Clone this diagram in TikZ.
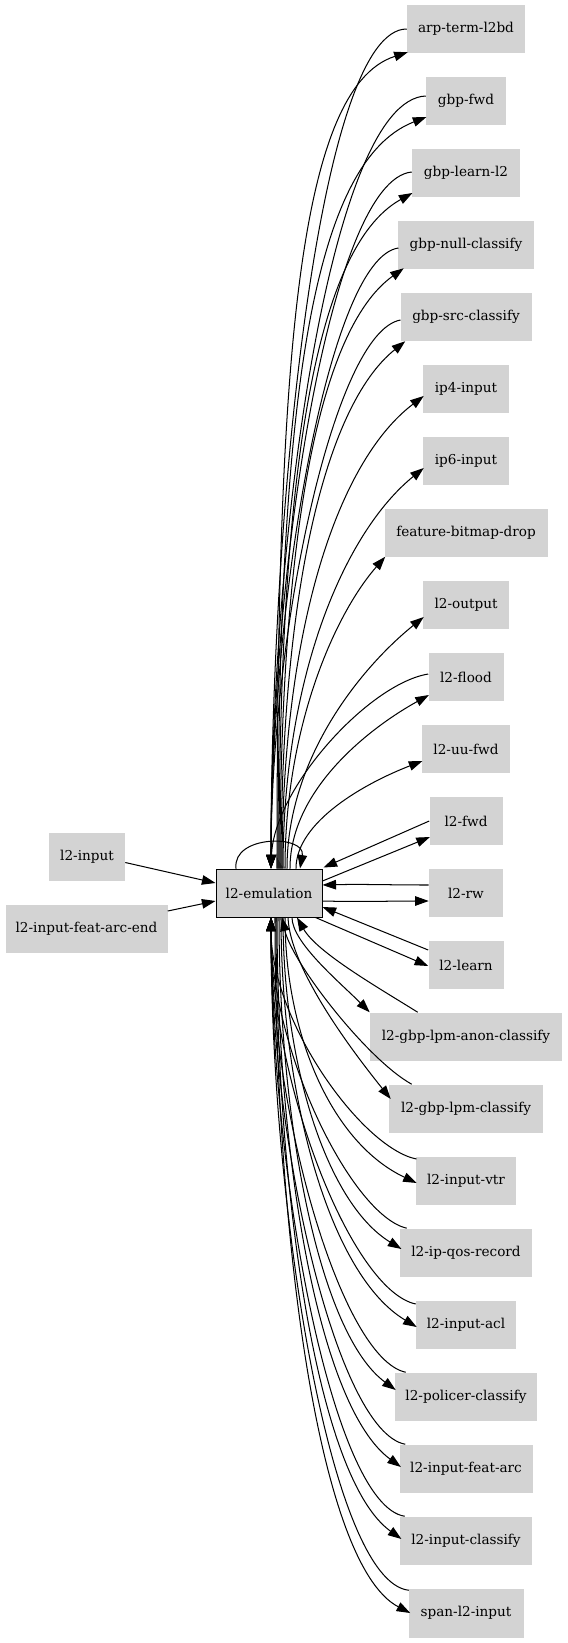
\documentclass[tikz,border=0pt]{standalone}
\usepackage{fontspec}
\setmainfont{DejaVu Serif}
\usetikzlibrary{arrows.meta,calc}
\definecolor{ngray}{RGB}{211,211,211}
\begin{document}
\begin{tikzpicture}[x=0.7353pt,y=-0.7353pt,
  nd/.style={fill=ngray,draw=none,minimum height=36pt,inner sep=0pt,font=\fontsize{10}{12}\selectfont},
  bw/.style={minimum width=#1*0.7353pt},
  ed/.style={draw=black,line width=0.75pt,-{Triangle[length=10pt,width=7pt]}},
]
\useasboundingbox (0,0) rectangle (567,1643);
% nodes
\node[nd,draw=black,line width=0.7pt,bw=106,minimum height=35.3pt] (em) at (269,893) {l2-emulation};
\node[nd,bw=76] (lin) at (87,857) {l2-input};
\node[nd,bw=162] (lend) at (86.5,929) {l2-input-feat-arc-end};
\node[nd,bw=118] (arp) at (466,29) {arp-term-l2bd};
\node[nd,bw=80] (gfwd) at (466,101) {gbp-fwd};
\node[nd,bw=108] (glearn) at (466,173) {gbp-learn-l2};
\node[nd,bw=136] (gnull) at (466,245) {gbp-null-classify};
\node[nd,bw=131] (gsrc) at (466,317) {gbp-src-classify};
\node[nd,bw=86] (ipf) at (466,389) {ip4-input};
\node[nd,bw=86] (ips) at (466,461) {ip6-input};
\node[nd,bw=163] (fbd) at (466,533) {feature-bitmap-drop};
\node[nd,bw=86] (lout) at (466,605) {l2-output};
\node[nd,bw=75] (lflood) at (466,677) {l2-flood};
\node[nd,bw=88] (luu) at (466,749) {l2-uu-fwd};
\node[nd,bw=73] (lfwd) at (466,821) {l2-fwd};
\node[nd,bw=74] (lrw) at (466,893) {l2-rw};
\node[nd,bw=75] (llearn) at (466,965) {l2-learn};
\node[nd,bw=192] (anon) at (466,1037) {l2-gbp-lpm-anon-classify};
\node[nd,bw=154] (lpm) at (466,1109) {l2-gbp-lpm-classify};
\node[nd,bw=100] (vtr) at (466,1181) {l2-input-vtr};
\node[nd,bw=132] (qos) at (466,1253) {l2-ip-qos-record};
\node[nd,bw=100] (acl) at (466,1325) {l2-input-acl};
\node[nd,bw=142] (pol) at (466,1397) {l2-policer-classify};
\node[nd,bw=133] (farc) at (466,1469) {l2-input-feat-arc};
\node[nd,bw=132] (icls) at (466,1541) {l2-input-classify};
\node[nd,bw=115] (span) at (466,1613) {span-l2-input};
% left inputs
\draw[ed] ($(lin.east)+(0,5.5)$) -- ($(em.west)+(0,-10)$);
\draw[ed] ($(lend.east)+(0,-18)$) -- ($(em.west)+(0,8)$);
% self loop
\draw[ed] ($(em.north)+(-33,0)$) .. controls +(-4,-34) and +(6,-34) .. ($(em.north)+(31,0)$);
% upper outgoing
\draw[ed] ($(em.north)+(8,0)$) .. controls +(0,-490) and +(-113,36) .. ($(arp.south west)+(1,-1.5)$);
\draw[ed] ($(em.north)+(9,0)$) .. controls +(0,-437) and +(-121,47) .. ($(gfwd.west)+(0.7,16)$);
\draw[ed] ($(em.north)+(10,0)$) .. controls +(0,-378) and +(-101,56) .. ($(glearn.west)+(0.7,20)$);
\draw[ed] ($(em.north)+(11,0)$) .. controls +(0,-324) and +(-87,62) .. ($(gnull.south west)+(6,-1.5)$);
\draw[ed] ($(em.north)+(12,0)$) .. controls +(0,-273) and +(-81,65) .. ($(gsrc.south west)+(5,-0.5)$);
\draw[ed] ($(em.north)+(13,0)$) .. controls +(0,-238) and +(-87,66) .. ($(ipf.west)+(1,7)$);
\draw[ed] ($(em.north)+(14,0)$) .. controls +(0,-193) and +(-79,64) .. ($(ips.west)+(1,7)$);
\draw[ed] ($(em.north)+(16,0)$) .. controls +(0,-143) and +(-50,57) .. ($(fbd.south west)+(1,-1)$);
\draw[ed] ($(em.north)+(18,0)$) .. controls +(0,-111) and +(-62,50) .. ($(lout.west)+(1,12)$);
\draw[ed] ($(em.north)+(21,0)$) .. controls +(0,-77) and +(-63,35) .. ($(lflood.west)+(0.7,18)$);
\draw[ed] ($(em.north)+(27,0)$) .. controls +(0,-47) and +(-57,22) .. ($(luu.west)+(0.7,12)$);
\draw[ed] ($(em.east)+(0,-12)$) -- ($(lfwd.west)+(0.7,16)$);
% upper incoming
\draw[ed] (arp.west) .. controls +(-88,0) and +(0,-361) .. ($(em.north)+(2,0)$);
\draw[ed] ($(gfwd.west)+(0,-5)$) .. controls +(-96,4) and +(0,-332) .. ($(em.north)+(2,0)$);
\draw[ed] ($(glearn.west)+(0,-1)$) .. controls +(-82,8) and +(0,-300) .. ($(em.north)+(2,0)$);
\draw[ed] ($(gnull.west)+(0.7,3)$) .. controls +(-70,10) and +(0,-267) .. ($(em.north)+(2,0)$);
\draw[ed] ($(gsrc.west)+(0.3,3)$) .. controls +(-67,12) and +(0,-236) .. ($(em.north)+(2,0)$);
\draw[ed] ($(lflood.west)+(0,-3)$) .. controls +(-60,10) and +(3,-80) .. ($(em.north)+(2,0)$);
\draw[ed] (lfwd.west) -- ($(em.north east)+(1,-1)$);
% l2-rw, l2-learn
\draw[ed] ($(lrw.west)+(0,-8)$) .. controls +(-40,0) and +(40,-1) .. ($(em.east)+(0,-8)$);
\draw[ed] ($(em.east)+(0,8)$) .. controls +(40,1) and +(-40,0) .. ($(lrw.west)+(0,8)$);
\draw[ed] ($(llearn.west)+(0,-15)$) -- ($(em.east)+(0,14)$);
\draw[ed] ($(em.south east)+(-7,0)$) -- ($(llearn.west)+(0,1)$);
% lower outgoing
\draw[ed] ($(em.south)+(23,0)$) .. controls +(0,25) and +(-30,-30) .. (anon.north west);
\draw[ed] ($(em.south)+(19,0)$) .. controls +(2,55) and +(-28,-35) .. ($(lpm.west)+(2,-10)$);
\draw[ed] ($(em.south)+(16,0)$) .. controls +(0,117) and +(-85,-40) .. ($(vtr.west)+(1,2)$);
\draw[ed] ($(em.south)+(14,0)$) .. controls +(0,146) and +(-75,-46) .. ($(qos.west)+(1.7,-4)$);
\draw[ed] ($(em.south)+(12,0)$) .. controls +(0,180) and +(-87,-52) .. ($(acl.west)+(1,2)$);
\draw[ed] ($(em.south)+(10,0)$) .. controls +(0,208) and +(-76,-56) .. ($(pol.west)+(1,-7)$);
\draw[ed] ($(em.south)+(8,0)$) .. controls +(0,242) and +(-82,-60) .. ($(farc.west)+(1.7,-2)$);
\draw[ed] ($(em.south)+(7,0)$) .. controls +(0,274) and +(-85,-61) .. ($(icls.west)+(1.7,-2)$);
\draw[ed] ($(em.south)+(6,0)$) .. controls +(0,306) and +(-94,-49) .. ($(span.west)+(2,0)$);
% lower incoming
\draw[ed] ($(anon.north west)+(48,0)$) .. controls +(-40,-25) and +(20,35) .. ($(em.south)+(28,0)$);
\draw[ed] ($(lpm.north west)+(23,0)$) .. controls +(-45,-25) and +(10,45) .. ($(em.south)+(13,0)$);
\draw[ed] ($(vtr.west)+(0.7,-22)$) .. controls +(-54.5,-11) and +(0,104) .. ($(em.south)+(2,0)$);
\draw[ed] ($(qos.north west)+(7,0)$) .. controls +(-55,-13) and +(0,134) .. ($(em.south)+(2,0)$);
\draw[ed] ($(acl.west)+(0,-21)$) .. controls +(-64,-13.5) and +(0,166) .. ($(em.south)+(2,0)$);
\draw[ed] ($(pol.north west)+(11,0)$) .. controls +(-64,-13.5) and +(0,196) .. ($(em.south)+(2,0)$);
\draw[ed] ($(farc.north west)+(6,0)$) .. controls +(-68,-13) and +(0,227) .. ($(em.south)+(2,0)$);
\draw[ed] ($(icls.north west)+(5,0)$) .. controls +(-72,-11) and +(0,258) .. ($(em.south)+(2,0)$);
\draw[ed] ($(span.north west)+(0.6,2)$) .. controls +(-79,-8.6) and +(0,290) .. ($(em.south)+(2,0)$);
\end{tikzpicture}
\end{document}
